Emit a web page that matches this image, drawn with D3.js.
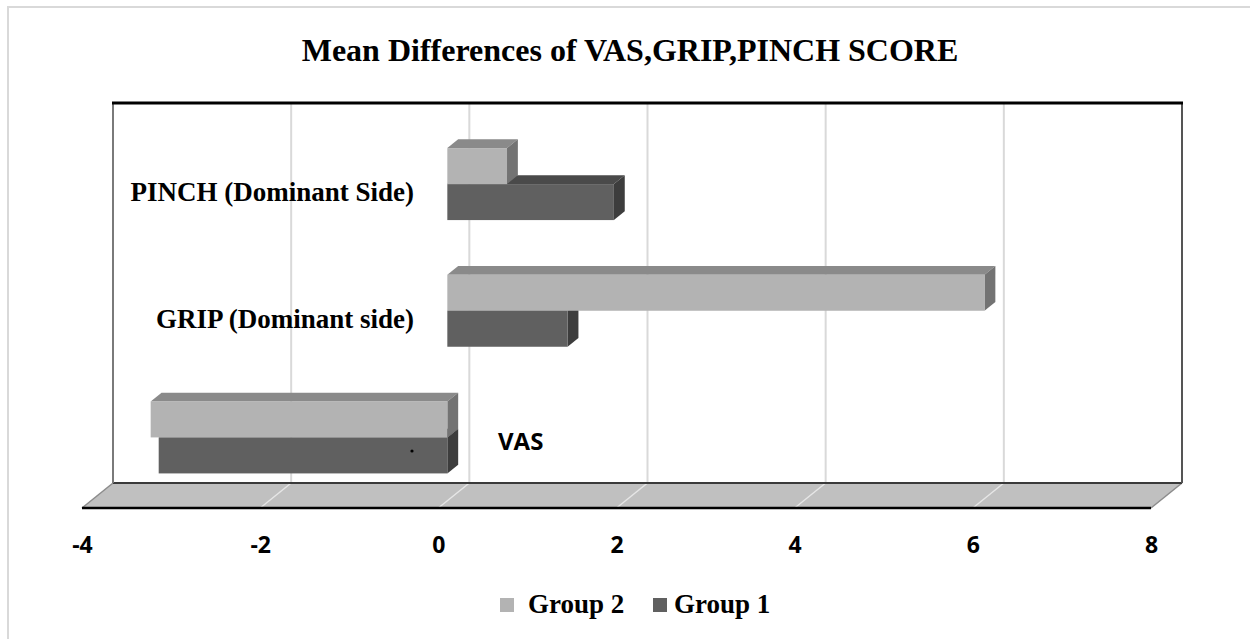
<!DOCTYPE html>
<html><head><meta charset="utf-8">
<script src="https://cdn.jsdelivr.net/npm/d3@7"></script>
<style>html,body{margin:0;padding:0;background:#fff;}svg{display:block;}</style>
</head><body>
<script>
const categories = ["PINCH (Dominant Side)", "GRIP (Dominant side)", "VAS"];
const seriesNames = ["Group 2", "Group 1"];
const group2 = [0.67, 6.03, -3.33];
const group1 = [1.87, 1.35, -3.24];
const xTicks = [-4, -2, 0, 2, 4, 6, 8];
const title = "Mean Differences of VAS,GRIP,PINCH SCORE";

const W = 1250, H = 639;
const svg = d3.select("body").append("svg").attr("width", W).attr("height", H);

// outer frame
svg.append("rect").attr("x", 8).attr("y", 7).attr("width", 1260).attr("height", 660)
  .attr("fill", "none").attr("stroke", "#d9d9d9").attr("stroke-width", 2);

// 3D geometry
const wallTop = 103, wallBottom = 483;
const depthDX = -31, depthDY = 25; // offset from back wall to front edge
const x = d3.scaleLinear().domain([-4, 8]).range([113, 1182]);
const y = d3.scaleBand().domain(categories).range([wallTop, wallBottom]).paddingInner(0).paddingOuter(0);
const off = d => [depthDX * d, depthDY * d];
const dFront = 0.71, dBack = 0.36;
const barH = 36;
const serif = "'Liberation Serif', 'Times New Roman', serif";
const sans = "'Open Sans', 'Liberation Sans', sans-serif";

// title
svg.append("text").attr("x", 630).attr("y", 61).attr("text-anchor", "middle")
  .attr("font-family", serif).attr("font-weight", "bold")
  .attr("font-size", 32).attr("fill", "#000").text(title);

// back wall gridlines
svg.append("g").selectAll("line").data(xTicks.slice(1, -1)).join("line")
  .attr("x1", d => x(d)).attr("x2", d => x(d)).attr("y1", wallTop).attr("y2", wallBottom)
  .attr("stroke", "#d9d9d9").attr("stroke-width", 2);

// floor
const [fdx, fdy] = off(1);
svg.append("path")
  .attr("d", `M${x(-4)},${wallBottom} L${x(8)},${wallBottom} L${x(8)+fdx},${wallBottom+fdy} L${x(-4)+fdx},${wallBottom+fdy} Z`)
  .attr("fill", "#c0c0c0").attr("stroke", "none");
svg.append("g").selectAll("line").data(xTicks.slice(1, -1)).join("line")
  .attr("x1", d => x(d)).attr("y1", wallBottom).attr("x2", d => x(d) + fdx).attr("y2", wallBottom + fdy)
  .attr("stroke", "#e6e6e6").attr("stroke-width", 1.5);
svg.append("line").attr("x1", x(-4)).attr("y1", wallBottom).attr("x2", x(-4)+fdx).attr("y2", wallBottom+fdy)
  .attr("stroke", "#8c8c8c").attr("stroke-width", 1.5);
svg.append("line").attr("x1", x(8)).attr("y1", wallBottom).attr("x2", x(8)+fdx).attr("y2", wallBottom+fdy)
  .attr("stroke", "#8c8c8c").attr("stroke-width", 1.5);
svg.append("line").attr("x1", x(-4)).attr("y1", wallBottom).attr("x2", x(8)).attr("y2", wallBottom)
  .attr("stroke", "#3a3a3a").attr("stroke-width", 2);
svg.append("line").attr("x1", x(-4)+fdx).attr("y1", wallBottom+fdy).attr("x2", x(8)+fdx).attr("y2", wallBottom+fdy)
  .attr("stroke", "#000").attr("stroke-width", 2.5);

// wall borders
svg.append("line").attr("x1", x(-4)).attr("y1", wallTop).attr("x2", x(-4)).attr("y2", wallBottom)
  .attr("stroke", "#7a7a7a").attr("stroke-width", 2);
svg.append("line").attr("x1", x(8)).attr("y1", wallTop).attr("x2", x(8)).attr("y2", wallBottom)
  .attr("stroke", "#555").attr("stroke-width", 2);
svg.append("line").attr("x1", x(-4)-1).attr("y1", wallTop).attr("x2", x(8)+1).attr("y2", wallTop)
  .attr("stroke", "#000").attr("stroke-width", 3);

// bars
const colors = {
  "Group 2": {front: "#b3b3b3", top: "#8a8a8a", side: "#737373"},
  "Group 1": {front: "#606060", top: "#4a4a4a", side: "#3d3d3d"}
};
const barData = [];
categories.forEach((c, i) => {
  barData.push({cat: c, s: "Group 1", v: group1[i], slot: 1});
  barData.push({cat: c, s: "Group 2", v: group2[i], slot: 0});
});
const [ffx, ffy] = off(dFront), [fbx, fby] = off(dBack);
const gBars = svg.append("g");
barData.forEach(b => {
  const center = y(b.cat) + y.bandwidth() / 2;
  const y0 = center - barH + b.slot * barH + ffy;
  const y1 = y0 + barH;
  const xl = Math.min(x(0), x(b.v)) + ffx, xr = Math.max(x(0), x(b.v)) + ffx;
  const ddx = fbx - ffx, ddy = fby - ffy;
  const c = colors[b.s];
  gBars.append("path").attr("d", `M${xl},${y0} L${xr},${y0} L${xr+ddx},${y0+ddy} L${xl+ddx},${y0+ddy} Z`).attr("fill", c.top);
  gBars.append("path").attr("d", `M${xr},${y0} L${xr+ddx},${y0+ddy} L${xr+ddx},${y1+ddy} L${xr},${y1} Z`).attr("fill", c.side);
  gBars.append("rect").attr("x", xl).attr("y", y0).attr("width", xr - xl).attr("height", barH).attr("fill", c.front);
});
// small stray dot in reference
svg.append("circle").attr("cx", 412).attr("cy", 451).attr("r", 1.6).attr("fill", "#000");

// category labels
svg.append("text").attr("x", 414).attr("y", 201).attr("text-anchor", "end")
  .attr("font-family", serif).attr("font-weight", "bold").attr("font-size", 27).text(categories[0]);
svg.append("text").attr("x", 414).attr("y", 328).attr("text-anchor", "end")
  .attr("font-family", serif).attr("font-weight", "bold").attr("font-size", 27).text(categories[1]);
svg.append("text").attr("x", 498).attr("y", 450).attr("text-anchor", "start")
  .attr("font-family", sans).attr("font-weight", 700).attr("font-size", 24).text(categories[2]);

// x axis labels on front edge
const xFront = d3.scaleLinear().domain(x.domain()).range(x.range().map(v => v + fdx));
const axis = svg.append("g").attr("transform", `translate(0,${wallBottom + fdy})`)
  .call(d3.axisBottom(xFront).tickValues(xTicks).tickSize(0).tickPadding(0).tickFormat(d3.format("d")));
axis.select(".domain").remove();
axis.selectAll("text").attr("y", 0).attr("dy", 0).attr("transform", "translate(0,45)")
  .attr("font-family", sans).attr("font-weight", 700).attr("font-size", 23).attr("fill", "#000")
  .text(d => d < 0 ? "-" + Math.abs(d) : d);

// legend
const legend = svg.append("g");
const legX = [500, 653];
seriesNames.forEach((s, i) => {
  legend.append("rect").attr("x", legX[i]).attr("y", 598).attr("width", 14).attr("height", 14).attr("fill", colors[s].front);
  legend.append("text").attr("x", legX[i] + (i === 0 ? 28 : 21)).attr("y", 613)
    .attr("font-family", serif).attr("font-weight", "bold").attr("font-size", 27).text(s);
});
</script>
</body></html>
